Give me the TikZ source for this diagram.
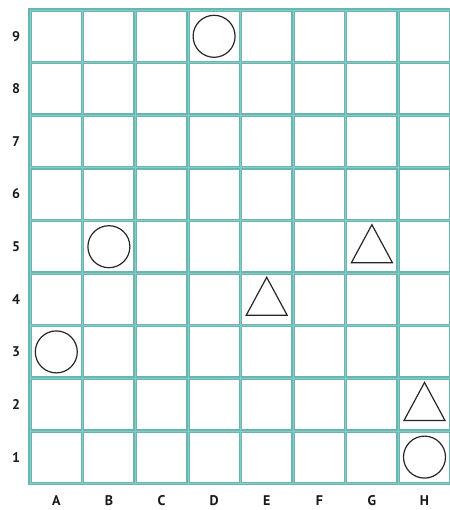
\documentclass[tikz,border=0pt]{standalone}
\usepackage{fontspec}
\setmainfont{PT Sans}
\definecolor{gridteal}{RGB}{102,183,177}
\definecolor{gridlight}{RGB}{140,202,198}
\begin{document}
\begin{tikzpicture}[x=1pt,y=-1pt,
  gridline/.style={gridteal, line width=3.6pt, line cap=rect},
  gridcore/.style={gridlight, line width=0.6pt},
  piece/.style={draw=black!85, line width=1.2pt},
  lbl/.style={font=\bfseries\fontsize{14}{14}\selectfont, text=black!90, inner sep=0pt},
  ring/.style={piece, circle, minimum size=42pt, inner sep=0pt}]
\useasboundingbox (0,0) rectangle (449,510);
\def\cs{52.6}
% grid
\foreach \i in {0,...,8}
  \draw[gridline] ({30+\cs*\i},10) -- ({30+\cs*\i},{10+9*\cs});
\foreach \j in {0,...,9}
  \draw[gridline] (30,{10+\cs*\j}) -- ({30+8*\cs},{10+\cs*\j});
\foreach \i in {0,...,8}
  \draw[gridcore] ({30+\cs*\i},10) -- ({30+\cs*\i},{10+9*\cs});
\foreach \j in {0,...,9}
  \draw[gridcore] (30,{10+\cs*\j}) -- ({30+8*\cs},{10+\cs*\j});
% labels
\foreach \r in {1,...,9}
  \node[lbl] (row\r) at (16,{10+\cs*(9.5-\r)}) {\r};
\foreach \c [count=\i from 0] in {A,B,C,D,E,F,G,H}
  \node[lbl] (col\c) at ({30+\cs*(\i+0.5)},501) {\c};
% cell centres
\foreach \c [count=\i from 0] in {A,B,C,D,E,F,G,H}
  \foreach \r in {1,...,9}
    \coordinate (\c\r) at ({30+\cs*(\i+0.5)},{10+\cs*(9.5-\r)});
% circles
\node[ring] (cD9) at (D9) {};
\node[ring] (cB5) at (B5) {};
\node[ring] (cA3) at (A3) {};
\node[ring] (cH1) at (H1) {};
% triangles
\foreach \p in {G5,E4,H2}
  \draw[piece, line join=miter] ([shift={(0,-22)}]\p) -- ([shift={(20.5,16)}]\p) -- ([shift={(-20.5,16)}]\p) -- cycle;
\end{tikzpicture}
\end{document}
